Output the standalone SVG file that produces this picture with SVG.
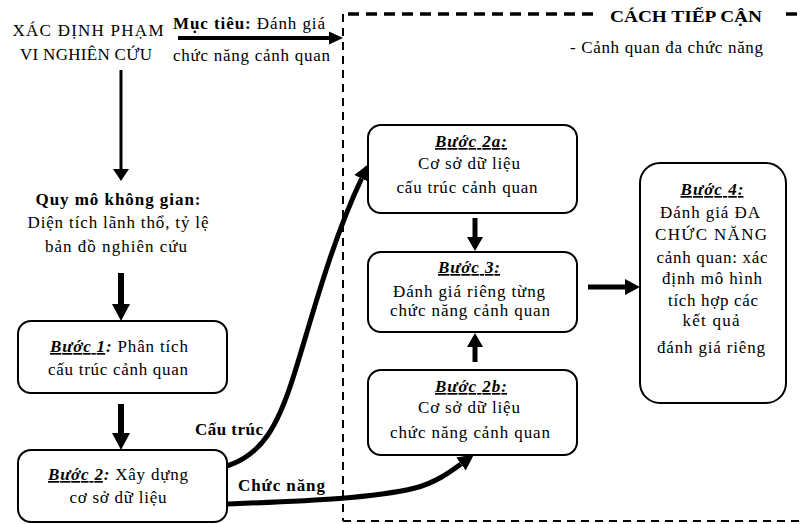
<svg xmlns="http://www.w3.org/2000/svg" width="802" height="524" viewBox="0 0 802 524">
  <style>
    text { font-family: "Liberation Serif", serif; font-size: 17px; fill: #000; }
    .c { text-anchor: middle; }
    .b { font-weight: bold; }
    .step { font-weight: bold; font-style: italic; text-decoration: underline; }
    .bi { font-weight: bold; font-style: italic; }
    .box { fill: #fff; stroke: #000; stroke-width: 2; }
    .frame-top { fill: none; stroke: #000; stroke-width: 3.5; stroke-dasharray: 11 7; }
    .frame { fill: none; stroke: #000; stroke-width: 2; stroke-dasharray: 8 6; }
    .shaft { fill: none; stroke: #000; stroke-linecap: butt; }
    .head { fill: #000; stroke: none; }
  </style>
  <defs>
    <marker id="curveHead" markerUnits="userSpaceOnUse" viewBox="0 -9 16 18" refX="0" refY="0" markerWidth="16" markerHeight="18" orient="auto">
      <path d="M0,-8 L16,0 L0,8 z" fill="#000"/>
    </marker>
  </defs>

  <rect width="802" height="524" fill="#fff"/>

  <!-- approach frame (dashed) -->
  <g id="approach-frame">
    <line class="frame-top" x1="348" y1="14" x2="594" y2="14"/>
    <line class="frame-top" x1="786" y1="14" x2="802" y2="14"/>
    <line class="frame" x1="343" y1="14" x2="343" y2="521"/>
    <line class="frame" x1="343" y1="521" x2="802" y2="521"/>
    <text class="b" x="610" y="22" font-size="16" textLength="152" lengthAdjust="spacingAndGlyphs">CÁCH TIẾP CẬN</text>
    <text x="570" y="53" font-size="16" textLength="193">- Cảnh quan đa chức năng</text>
  </g>

  <!-- scope -->
  <g id="scope">
    <text class="c" x="88" y="36" textLength="151">XÁC ĐỊNH PHẠM</text>
    <text class="c" x="86" y="60" textLength="132">VI NGHIÊN CỨU</text>
  </g>

  <!-- objective -->
  <g id="objective">
    <text x="173" y="29" font-size="16" textLength="152"><tspan class="b">Mục tiêu:</tspan> Đánh giá</text>
    <text x="173" y="61" font-size="16" textLength="157">chức năng cảnh quan</text>
  </g>

  <!-- spatial scale -->
  <g id="spatial-scale">
    <text class="c b" x="118" y="205" textLength="165">Quy mô không gian:</text>
    <text class="c" x="118" y="228" textLength="181">Diện tích lãnh thổ, tỷ lệ</text>
    <text class="c" x="116" y="252" textLength="142">bản đồ nghiên cứu</text>
  </g>

  <!-- step 1 -->
  <g id="step1">
    <rect class="box" x="18" y="321" width="209" height="72" rx="13"/>
    <text class="c" x="119" y="352" textLength="138"><tspan class="step">Bước 1</tspan><tspan class="bi">:</tspan> Phân tích</text>
    <text class="c" x="118" y="375" textLength="140">cấu trúc cảnh quan</text>
  </g>

  <!-- step 2 -->
  <g id="step2">
    <rect class="box" x="18" y="450" width="209" height="72" rx="13"/>
    <text class="c" x="118" y="480" textLength="140"><tspan class="step">Bước 2</tspan><tspan class="bi">:</tspan> Xây dựng</text>
    <text class="c" x="118" y="503" textLength="97">cơ sở dữ liệu</text>
  </g>

  <!-- step 2a -->
  <g id="step2a">
    <rect class="box" x="368" y="125" width="209" height="88" rx="13"/>
    <text class="c step" x="471" y="147" textLength="72">Bước 2a:</text>
    <text class="c" x="469" y="169" textLength="102">Cơ sở dữ liệu</text>
    <text class="c" x="467" y="193" textLength="141">cấu trúc cảnh quan</text>
  </g>

  <!-- step 3 -->
  <g id="step3">
    <rect class="box" x="368" y="252" width="209" height="80" rx="13"/>
    <text class="c step" x="469" y="273" textLength="62">Bước 3:</text>
    <text class="c" x="469" y="297" textLength="152">Đánh giá riêng từng</text>
    <text class="c" x="470" y="316" textLength="160">chức năng cảnh quan</text>
  </g>

  <!-- step 2b -->
  <g id="step2b">
    <rect class="box" x="368" y="370" width="209" height="85" rx="13"/>
    <text class="c step" x="471" y="392" textLength="72">Bước 2b:</text>
    <text class="c" x="469" y="413" textLength="102">Cơ sở dữ liệu</text>
    <text class="c" x="470" y="438" textLength="160">chức năng cảnh quan</text>
  </g>

  <!-- step 4 -->
  <g id="step4">
    <rect class="box" x="640" y="163" width="146" height="240" rx="20"/>
    <text class="c step" x="712" y="195" textLength="63">Bước 4:</text>
    <text class="c" x="710" y="218" textLength="100">Đánh giá ĐA</text>
    <text class="c" x="711" y="240" textLength="112">CHỨC NĂNG</text>
    <text class="c" x="712" y="263" textLength="111">cảnh quan: xác</text>
    <text class="c" x="712" y="284" textLength="100">định mô hình</text>
    <text class="c" x="713" y="306" textLength="90">tích hợp các</text>
    <text class="c" x="711" y="326" textLength="57">kết quả</text>
    <text class="c" x="711" y="353" textLength="108">đánh giá riêng</text>
  </g>

  <!-- connector labels -->
  <g id="labels">
    <text class="b" x="195" y="435" textLength="68">Cấu trúc</text>
    <text class="b" x="238" y="491" textLength="87">Chức năng</text>
  </g>

  <!-- connectors -->
  <g id="connectors">
    <!-- objective -> approach -->
    <line class="shaft" x1="178" y1="38" x2="331" y2="38" stroke-width="4"/>
    <polygon class="head" points="329,31.5 343,38 329,44.5"/>
    <!-- scope -> spatial scale -->
    <line class="shaft" x1="121" y1="70" x2="121" y2="171" stroke-width="3"/>
    <polygon class="head" points="113,169 129,169 121,181"/>
    <!-- spatial scale -> step 1 -->
    <line class="shaft" x1="121" y1="273" x2="121" y2="306" stroke-width="6"/>
    <polygon class="head" points="112,304 130,304 121,321"/>
    <!-- step 1 -> step 2 -->
    <line class="shaft" x1="121" y1="404" x2="121" y2="435" stroke-width="6"/>
    <polygon class="head" points="112,433 130,433 121,450"/>
    <!-- step 2a -> step 3 -->
    <line class="shaft" x1="475" y1="218" x2="475" y2="239" stroke-width="5"/>
    <polygon class="head" points="467,237 483,237 475,251"/>
    <!-- step 2b -> step 3 -->
    <line class="shaft" x1="475" y1="362" x2="475" y2="345" stroke-width="5"/>
    <polygon class="head" points="467,347 483,347 475,333"/>
    <!-- step 3 -> step 4 -->
    <line class="shaft" x1="588" y1="287" x2="627" y2="287" stroke-width="5"/>
    <polygon class="head" points="625,279 640,287 625,295"/>
    <!-- step 2 -> step 2a (structure) -->
    <path class="shaft" d="M227,466 C262,455 278,425 293,378 C310,325 330,245 361.6,178.5" stroke-width="5" marker-end="url(#curveHead)"/>
    <!-- step 2 -> step 2b (function) -->
    <path class="shaft" d="M227,504 C300,501 370,499 415,488 C435,483 450,472 461,464" stroke-width="5" marker-end="url(#curveHead)"/>
  </g>
</svg>
